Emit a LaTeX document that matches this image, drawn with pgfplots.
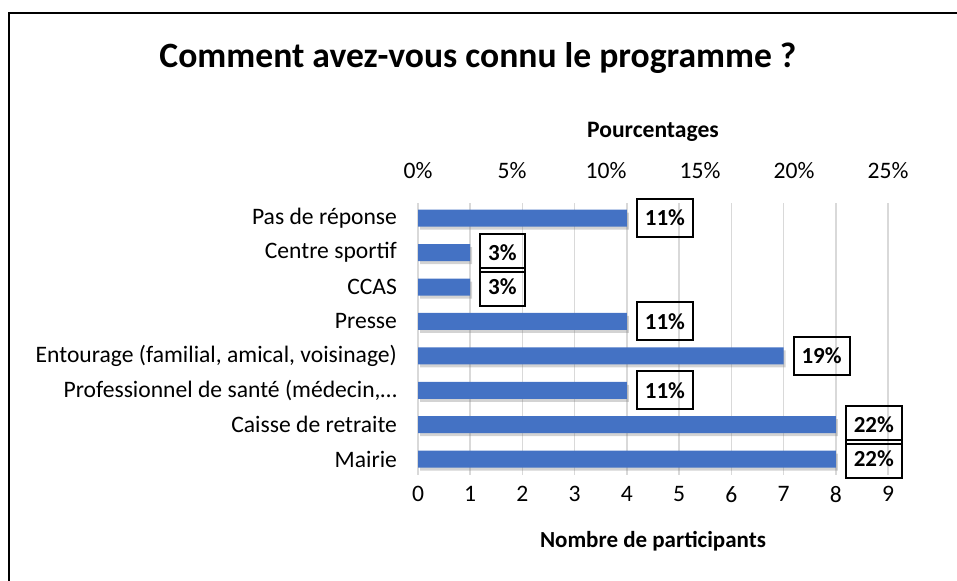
\documentclass[border=0pt]{standalone}
\usepackage{fontspec}
\setmainfont{Carlito}
\usepackage{pgfplots}
\usepackage{pgfplotstable}
\pgfplotsset{compat=1.18}
\usetikzlibrary{shadows}
\definecolor{barblue}{HTML}{4472C4}
\definecolor{gridgray}{HTML}{D9D9D9}

% y position, participants, percentage
\pgfplotstableread{
y n pct
0 8 22
1 8 22
2 4 11
3 7 19
4 4 11
5 1 3
6 1 3
7 4 11
}\sources

\begin{document}
\begin{tikzpicture}
\path[use as bounding box] (0,0) rectangle (478.5pt,-290.5pt);
\draw[line width=1pt] (4.5pt,-290.5pt) -- (4.5pt,-6.5pt) -- (478.5pt,-6.5pt);
\node[font=\bfseries\fontsize{17.8}{21}\selectfont] at (239pt,-29pt) {Comment avez-vous connu le programme ?};

% bottom axis: participants
\begin{axis}[
  at={(209pt,-237.5pt)}, anchor=south west,
  scale only axis, width=235pt, height=136pt,
  xmin=0, xmax=9, ymin=-0.46, ymax=7.44,
  xbar, bar width=8.5pt,
  axis line style={draw=none},
  xtick={0,...,9}, ytick={0,...,7},
  yticklabels={Mairie, Caisse de retraite, {Professionnel de santé (médecin,…}, {Entourage (familial, amical, voisinage)}, Presse, CCAS, Centre sportif, Pas de réponse},
  major tick length=0pt,
  xmajorgrids, major grid style={gridgray, line width=0.75pt},
  tick label style={font=\fontsize{11.8}{14}\selectfont},
  /pgf/number format/assume math mode=true,
  yticklabel style={xshift=-7pt},
  xticklabel style={yshift=-2pt},
  xlabel={\textbf{Nombre de participants}},
  xlabel style={font=\fontsize{11.5}{14}\selectfont, at={(axis description cs:0.5,0)}, anchor=center, yshift=-33pt},
  point meta=explicit,
  nodes near coords={\pgfmathprintnumber{\pgfplotspointmeta}\%},
  nodes near coords style={font=\bfseries\fontsize{11.5}{14}\selectfont, draw=black, line width=1pt, anchor=west, xshift=4.5pt, inner xsep=4pt, minimum height=19pt},
]
\addplot[fill=barblue, draw=none, drop shadow={shadow xshift=1pt, shadow yshift=-1.5pt, opacity=0.35}]
  table[x=n, y=y, meta=pct] {\sources};
\end{axis}

% top axis: percentages
\begin{axis}[
  at={(209pt,-237.5pt)}, anchor=south west,
  scale only axis, width=235pt, height=136pt,
  xmin=0, xmax=25, ymin=0, ymax=1,
  axis x line*=top, axis y line*=left,
  axis line style={draw=none},
  ytick=\empty,
  xtick={0,5,...,25},
  xticklabel={\pgfmathprintnumber{\tick}\%},
  major tick length=0pt,
  tick label style={font=\fontsize{11.8}{14}\selectfont},
  /pgf/number format/assume math mode=true,
  xticklabel style={yshift=8.5pt},
  xlabel={\textbf{Pourcentages}},
  xlabel style={font=\fontsize{11.8}{14}\selectfont, at={(axis description cs:0.5,1)}, anchor=center, yshift=35.5pt},
]
\end{axis}
\end{tikzpicture}
\end{document}
